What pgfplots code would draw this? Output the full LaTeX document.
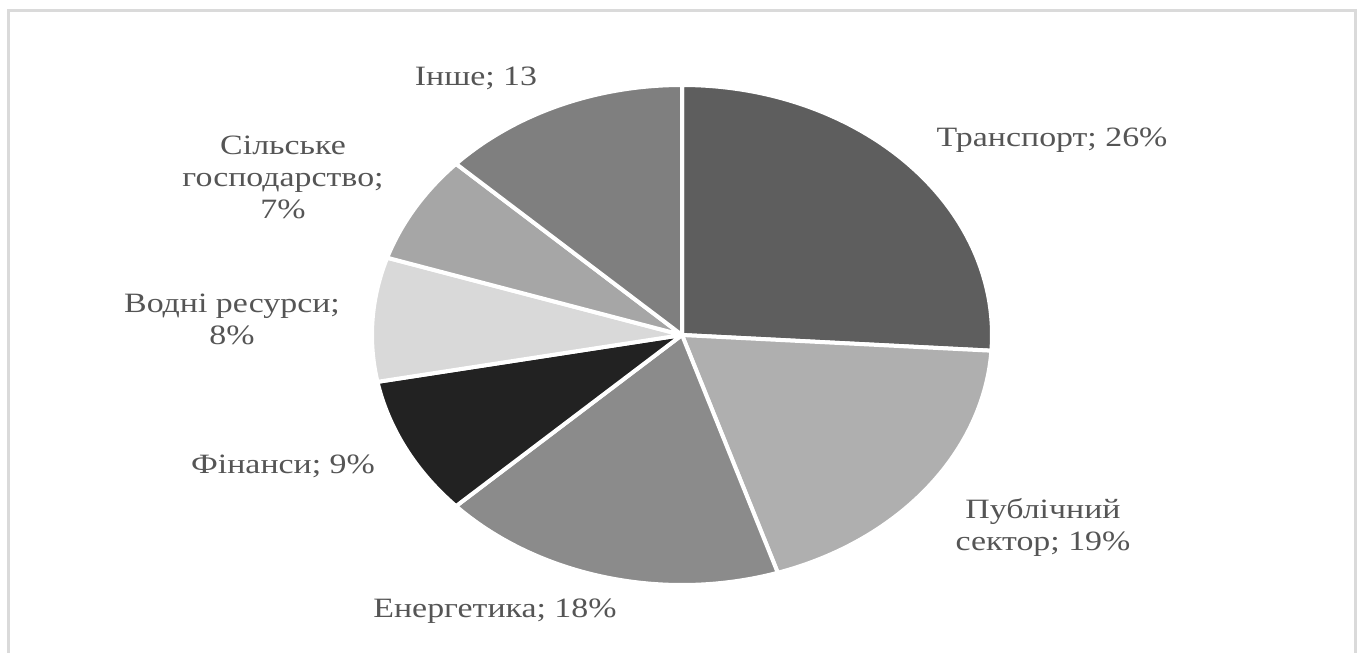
\documentclass[border=0pt]{standalone}
\usepackage{pgfplots}
\pgfplotsset{compat=1.18}
\usepackage{pgfplotstable}
\usepackage{fontspec}
\setmainfont{Liberation Serif}[FakeStretch=1.21]
\definecolor{cT}{HTML}{5E5E5E}
\definecolor{cP}{HTML}{AFAFAF}
\definecolor{cE}{HTML}{8B8B8B}
\definecolor{cF}{HTML}{222222}
\definecolor{cW}{HTML}{D9D9D9}
\definecolor{cA}{HTML}{A6A6A6}
\definecolor{cO}{HTML}{7F7F7F}
\definecolor{txt}{HTML}{555555}
\definecolor{frame}{HTML}{DADADA}
\tikzset{lbl/.style={font=\fontsize{28bp}{32bp}\selectfont, text=txt, align=center, inner sep=0pt}}

\pgfplotstableread{
name value col
Transport 26 cT
Public 19 cP
Energy 18 cE
Finance 9 cF
Water 8 cW
Agriculture 7 cA
Other 13 cO
}\piedata

\begin{document}
\begin{tikzpicture}
\useasboundingbox (0,0) rectangle (1364bp,653bp);
\begin{axis}[
  scale only axis, width=1364bp, height=653bp,
  xmin=0, xmax=1364, ymin=0, ymax=653, y dir=reverse,
  hide axis, clip=false,
]
\draw[frame, line width=3bp] (axis cs:8,653) -- (axis cs:8,11) -- (axis cs:1355.5,11) -- (axis cs:1355.5,653);
\def\cum{0}
\pgfplotsforeachungrouped \i in {0,...,6}{
  \pgfplotstablegetelem{\i}{value}\of\piedata \let\v\pgfplotsretval
  \pgfplotstablegetelem{\i}{col}\of\piedata \let\c\pgfplotsretval
  \pgfmathsetmacro\aS{90-3.6*\cum}
  \pgfmathsetmacro\aE{90-3.6*(\cum+\v)}
  \edef\doit{\noexpand\addplot[fill=\c, draw=white, line width=4bp, line join=round, domain=\aE:\aS, samples=90] ({682+310*cos(x)},{335-250*sin(x)}) -- (axis cs:682,335) -- cycle;}
  \doit
  \pgfmathsetmacro\cum{\cum+\v}
}
\node[lbl] at (axis cs:476,78) {Інше; 13};
\node[lbl] at (axis cs:1052,140) {Транспорт; 26\%};
\node[lbl] at (axis cs:283,177) {Сільське\\господарство;\\7\%};
\node[lbl] at (axis cs:232,319) {Водні ресурси;\\8\%};
\node[lbl] at (axis cs:283,466) {Фінанси; 9\%};
\node[lbl] at (axis cs:495,611) {Енергетика; 18\%};
\node[lbl] at (axis cs:1043,527) {Публічний\\сектор; 19\%};
\end{axis}
\end{tikzpicture}
\end{document}
